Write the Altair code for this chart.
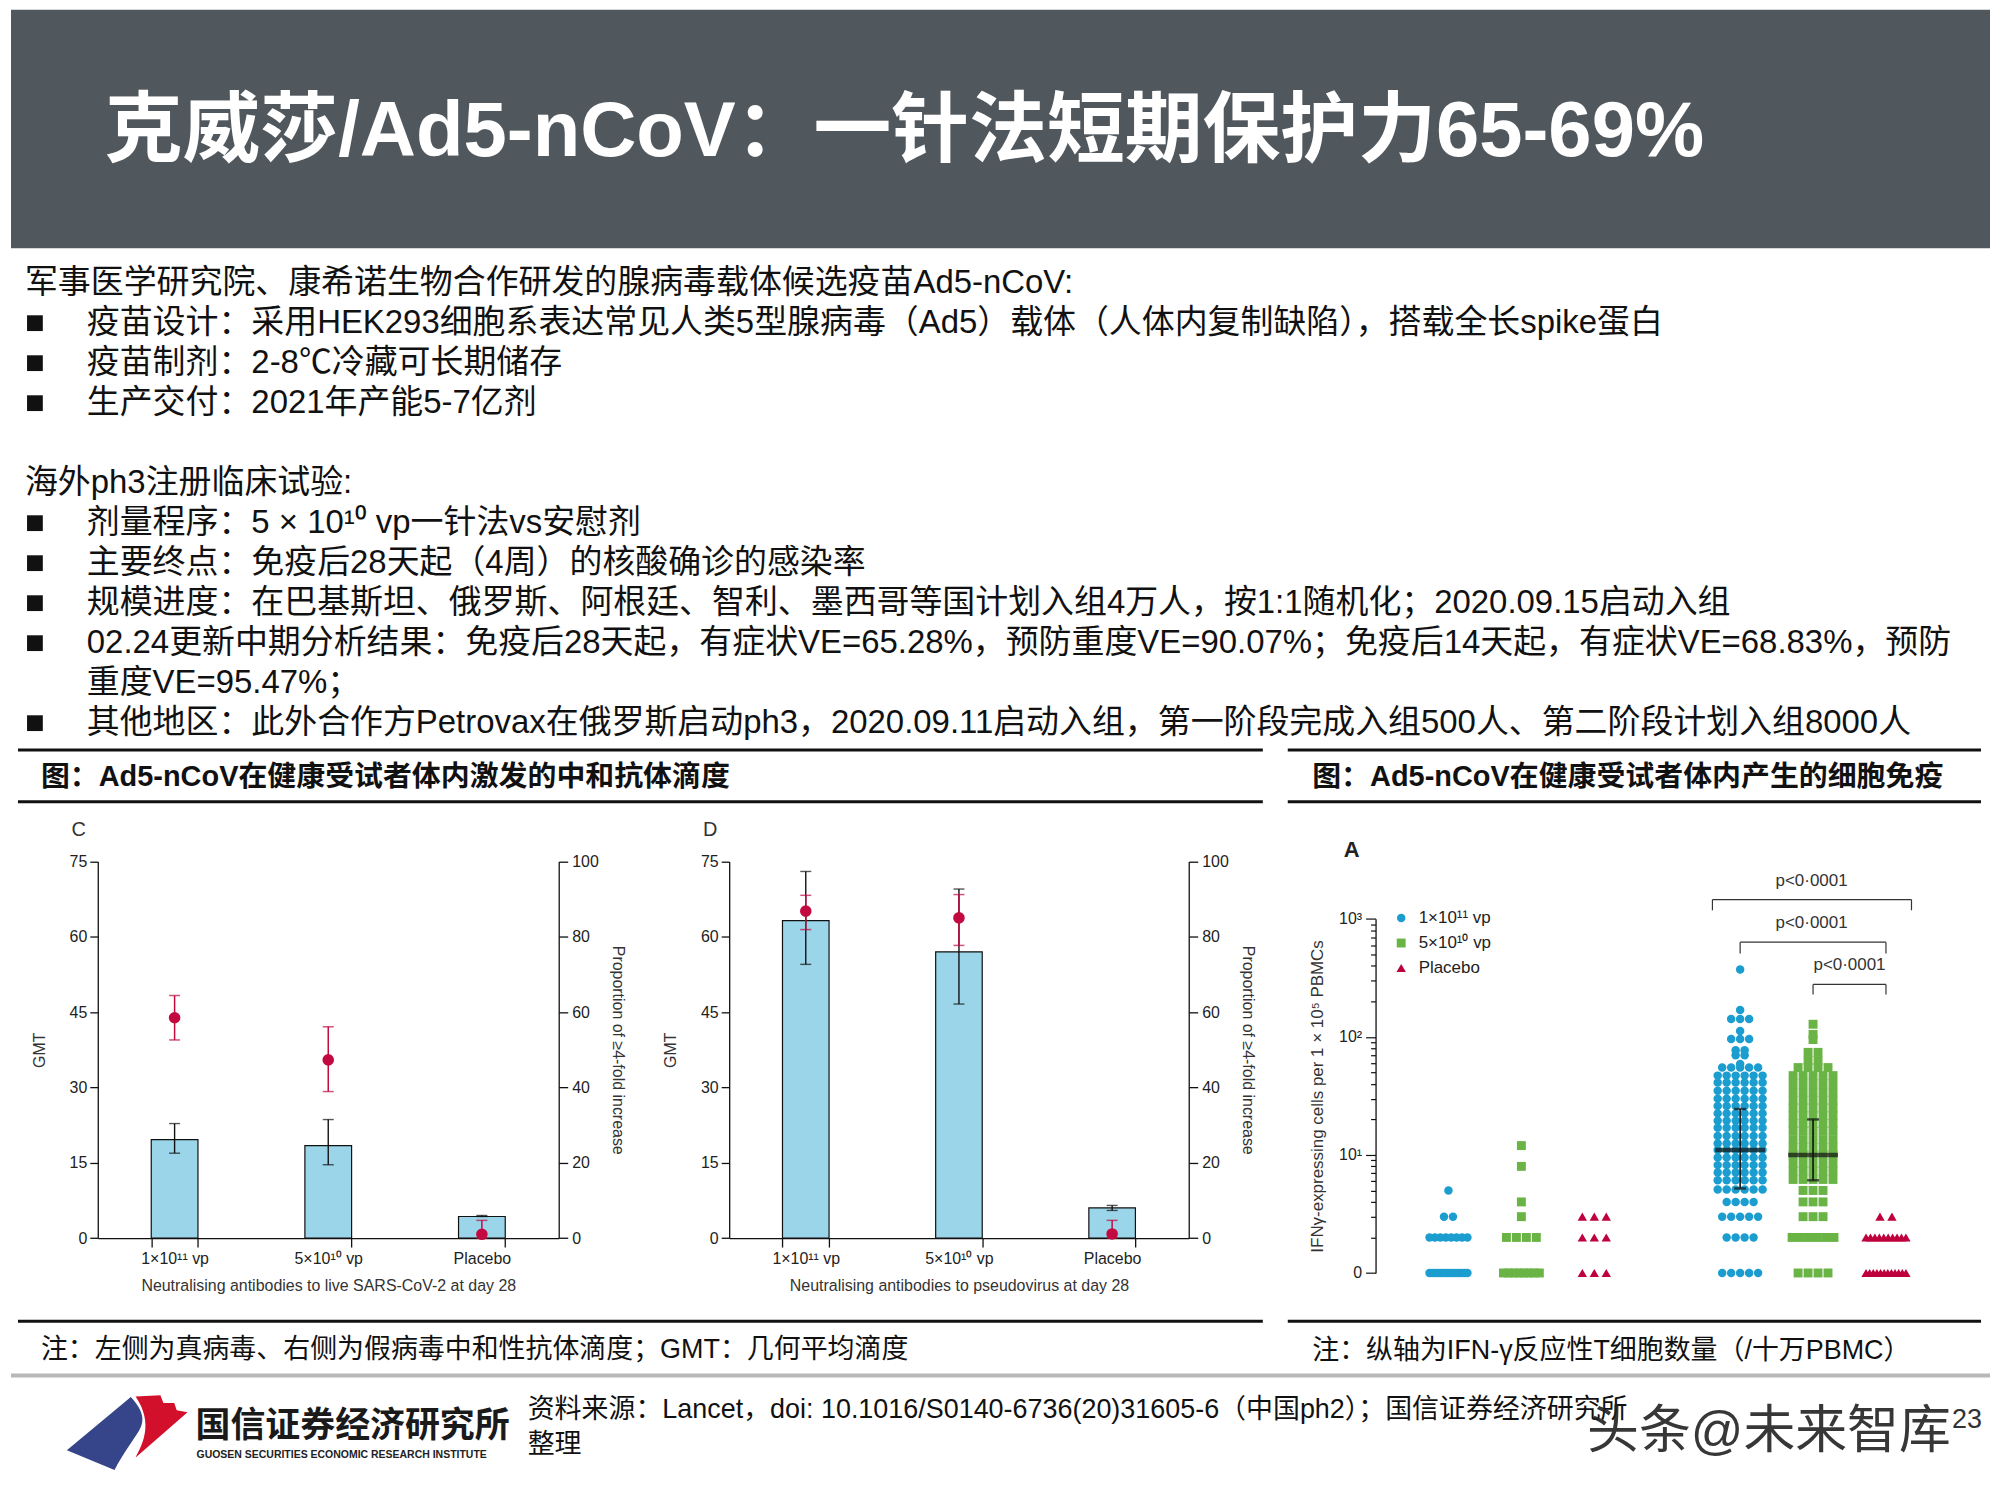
import altair as alt
import pandas as pd
from collections import Counter

# ================= text content =================
TITLE = "克威莎/Ad5-nCoV：一针法短期保护力65-69%"
INTRO_1 = "军事医学研究院、康希诺生物合作研发的腺病毒载体候选疫苗Ad5-nCoV:"
BULLETS_1 = [
    "疫苗设计：采用HEK293细胞系表达常见人类5型腺病毒（Ad5）载体（人体内复制缺陷），搭载全长spike蛋白",
    "疫苗制剂：2-8℃冷藏可长期储存",
    "生产交付：2021年产能5-7亿剂",
]
INTRO_2 = "海外ph3注册临床试验:"
BULLETS_2 = [
    "剂量程序：5 × 10¹⁰ vp一针法vs安慰剂",
    "主要终点：免疫后28天起（4周）的核酸确诊的感染率",
    "规模进度：在巴基斯坦、俄罗斯、阿根廷、智利、墨西哥等国计划入组4万人，按1:1随机化；2020.09.15启动入组",
    "02.24更新中期分析结果：免疫后28天起，有症状VE=65.28%，预防重度VE=90.07%；免疫后14天起，有症状VE=68.83%，预防",
    "其他地区：此外合作方Petrovax在俄罗斯启动ph3，2020.09.11启动入组，第一阶段完成入组500人、第二阶段计划入组8000人",
]
CONT_LINE = "重度VE=95.47%；"
HEAD_LEFT = "图：Ad5-nCoV在健康受试者体内激发的中和抗体滴度"
HEAD_RIGHT = "图：Ad5-nCoV在健康受试者体内产生的细胞免疫"
NOTE_LEFT = "注：左侧为真病毒、右侧为假病毒中和性抗体滴度；GMT：几何平均滴度"
NOTE_RIGHT = "注：纵轴为IFN-γ反应性T细胞数量（/十万PBMC）"
SOURCE_1 = "资料来源：Lancet，doi: 10.1016/S0140-6736(20)31605-6（中国ph2）；国信证券经济研究所"
SOURCE_2 = "整理"
ORG_CN = "国信证券经济研究所"
ORG_EN = "GUOSEN SECURITIES ECONOMIC RESEARCH INSTITUTE"
WATERMARK = "头条@未来智库"
PAGE = "23"

# ================= chart data =================
GROUPS = ["1×10¹¹ vp", "5×10¹⁰ vp", "Placebo"]
GMT_TICKS = [0, 15, 30, 45, 60, 75]
PROP_TICKS = [0, 20, 40, 60, 80, 100]

# panel C: live SARS-CoV-2
C_GMT = [19.6, 18.4, 4.3]
C_GMT_LO = [16.9, 14.6, 4.3]
C_GMT_HI = [22.8, 23.6, 4.5]
C_PROP = [58.5, 47.3, 1.0]
C_PROP_LO = [52.6, 38.9, 0.0]
C_PROP_HI = [64.4, 56.1, 4.7]

# panel D: pseudovirus
D_GMT = [63.2, 57.0, 6.0]
D_GMT_LO = [54.5, 46.6, 5.5]
D_GMT_HI = [73.0, 69.5, 6.5]
D_PROP = [86.8, 85.0, 1.1]
D_PROP_LO = [81.9, 77.7, 0.0]
D_PROP_HI = [91.0, 91.2, 4.7]

# panel A: IFN-gamma ELISpot, values
A_D0_HIGH = [0] * 14 + [2] * 8 + [3] * 2 + [5]
A_D0_MID = [0] * 8 + [2] * 4 + [3, 4, 8, 12]
A_D0_PLA = [0] * 3 + [2] * 3 + [3] * 3
A_D28_HIGH = ([373, 169, 142, 142, 142, 112, 96, 96, 96, 77, 77, 70, 70, 59]
              + [55] * 5 + [47] * 6 + [41] * 6 + [35] * 6 + [30] * 6 + [26] * 6
              + [22.5] * 6 + [19.5] * 6 + [17] * 6 + [14.5] * 6 + [12.5] * 6 + [11] * 6
              + [9.5] * 6 + [8.2] * 6 + [7.1] * 6 + [6.1] * 6 + [5.1] * 6
              + [4] * 4 + [3] * 5 + [2] * 4 + [0] * 5)
A_D28_MID = ([128, 105, 95, 74, 74, 63, 63]
             + [55] * 4 + [47] * 5 + [40] * 5 + [34] * 5 + [29] * 5 + [25] * 5
             + [21.5] * 5 + [18.5] * 5 + [16] * 5 + [13.5] * 5 + [11.5] * 5 + [10] * 5
             + [8.5] * 5 + [7.3] * 5 + [6.2] * 5
             + [5] * 3 + [4] * 3 + [3] * 3 + [2] * 6 + [0] * 4)
A_D28_PLA = [0] * 12 + [2] * 10 + [3] * 2
A_MED = [11.0, 10.0]
A_MED_LO = [5.2, 6.1]
A_MED_HI = [24.5, 20.0]
A_LOG_LABELS = ["0", "10¹", "10²", "10³"]
P_TEXT = "p<0·0001"
A_YTITLE = "IFNγ-expressing cells per 1 × 10⁵ PBMCs"

# ================= styles / layout =================
NARROW = "Liberation Sans Narrow, Liberation Sans, Arial, sans-serif"
BODY = "Liberation Sans, Noto Sans CJK SC, sans-serif"
TITLE_BG = "#50575d"
BAR_FILL = "#9bd5e9"
C_RED = "#c20a40"
A_COLORS = ["#1b9ecf", "#6ab446", "#be003c"]

W = 1984
HDR_H = 802
SP0, C_W, SP1, D_W, SP2, A_W = 86.7, 462.1, 169.5, 460.7, 186.2, 584.8
CD_H, CD_TOP = 429.3, 51.7
A_H, A_TOP = 464.3, 109.3
FOFF = A_H               # footer drawn below the chart row
FTR_H = 217.7 + FOFF
PX_PER_UNIT = A_W / 8.0
A_LEFT = SP0 + C_W + SP1 + D_W + SP2

one = pd.DataFrame({"k": [0]})


def hline(x1, x2, y, color, w):
    return alt.Chart(one).mark_rule(color=color, strokeWidth=w).encode(
        x=alt.value(x1), x2=alt.value(x2), y=alt.value(y))


def label(text, x, y, size, font=BODY, color="#111", weight="normal",
          align="left", baseline="middle", **kw):
    return alt.Chart(one).mark_text(
        align=align, baseline=baseline, font=font, fontSize=size,
        fontWeight=weight, color=color, **kw).encode(
        x=alt.value(x), y=alt.value(y), text=alt.value(text))


# ================= header =================
body = ([(INTRO_1, 0, False)] + [(t, 1, True) for t in BULLETS_1]
        + [(INTRO_2, 0, False)] + [(t, 1, True) for t in BULLETS_2[:4]]
        + [(CONT_LINE, 1, False)] + [(BULLETS_2[4], 1, True)])
slots = [0, 1, 2, 3, 5, 6, 7, 8, 9, 10, 11]
body_df = pd.DataFrame({
    "t": [b[0] for b in body],
    "x": [14 if b[1] == 0 else 76 for b in body],
    "y": [274 + 40.1 * s for s in slots],
})
bul_df = pd.DataFrame({
    "x": [24 for b in body if b[2]],
    "y": [274 + 40.1 * s for b, s in zip(body, slots) if b[2]],
})

hdr_layers = [
    alt.Chart(one).mark_rect(color=TITLE_BG).encode(
        x=alt.value(0), x2=alt.value(W), y=alt.value(0), y2=alt.value(239)),
    label(TITLE, 94, 147, 78, color="white", weight="bold", baseline="alphabetic"),
    alt.Chart(body_df).mark_text(align="left", baseline="middle", font=BODY,
                                 fontSize=33, color="#111").encode(
        x=alt.X("x:Q", scale=None, axis=None),
        y=alt.Y("y:Q", scale=None, axis=None), text="t:N"),
    alt.Chart(bul_df).mark_square(size=250, color="#111", opacity=1).encode(
        x=alt.X("x:Q", scale=None, axis=None),
        y=alt.Y("y:Q", scale=None, axis=None)),
    hline(7, 1255, 742, "#111", 3), hline(1280, 1975, 742, "#111", 3),
    hline(7, 1255, 794, "#111", 3), hline(1280, 1975, 794, "#111", 3),
    label(HEAD_LEFT, 30, 768.7, 29, weight="bold"),
    label(HEAD_RIGHT, 1304.5, 768.7, 29, weight="bold"),
]
header = alt.layer(*hdr_layers).properties(width=W, height=HDR_H)


# ================= panels C / D =================
def neut_panel(gmt, lo, hi, prop, plo, phi, xtitle, letter, width):
    df = pd.DataFrame({"g": GROUPS, "gmt": gmt, "lo": lo, "hi": hi,
                       "p": prop, "plo": plo, "phi": phi})
    base = alt.Chart(df)
    x = alt.X("g:N", sort=GROUPS, title=xtitle,
              scale=alt.Scale(paddingInner=0.696, paddingOuter=0.348),
              axis=alt.Axis(labelAngle=0, tickBand="extent", tickSize=9,
                            labelPadding=3, titlePadding=12, domainWidth=1.3,
                            tickWidth=1.3))
    ys_l = alt.Scale(domain=[0, 75], range=[CD_H, CD_TOP], nice=False, zero=True)
    ax_l = alt.Axis(values=GMT_TICKS, tickSize=8, labelPadding=3, titlePadding=22,
                    domainWidth=1.3, tickWidth=1.3)
    ys_r = alt.Scale(domain=[0, 100], range=[CD_H, CD_TOP], nice=False, zero=True)
    ax_r = alt.Axis(orient="right", values=PROP_TICKS, tickSize=9, labelPadding=4,
                    titlePadding=11, domainWidth=1.3, tickWidth=1.3)
    bars = base.mark_bar(fill=BAR_FILL, stroke="#111", strokeWidth=1.2).encode(
        x=x, y=alt.Y("gmt:Q", scale=ys_l, axis=ax_l, title="GMT"))
    err = base.mark_rule(color="#111", strokeWidth=1.4).encode(
        x=x, y=alt.Y("lo:Q", scale=ys_l, axis=ax_l, title="GMT"), y2="hi:Q")
    cap_lo = base.mark_tick(color="#111", size=11, thickness=1.4).encode(
        x=x, y=alt.Y("lo:Q", scale=ys_l, axis=ax_l, title="GMT"))
    cap_hi = base.mark_tick(color="#111", size=11, thickness=1.4).encode(
        x=x, y=alt.Y("hi:Q", scale=ys_l, axis=ax_l, title="GMT"))
    left = alt.layer(bars, err, cap_lo, cap_hi)
    rt = "Proportion of ≥4-fold increase"
    rerr = base.mark_rule(color=C_RED, strokeWidth=1.5).encode(
        x=x, y=alt.Y("plo:Q", scale=ys_r, axis=ax_r, title=rt), y2="phi:Q")
    rcap_lo = base.mark_tick(color=C_RED, size=11, thickness=1.5).encode(
        x=x, y=alt.Y("plo:Q", scale=ys_r, axis=ax_r, title=rt))
    rcap_hi = base.mark_tick(color=C_RED, size=11, thickness=1.5).encode(
        x=x, y=alt.Y("phi:Q", scale=ys_r, axis=ax_r, title=rt))
    rdot = base.mark_circle(size=135, color=C_RED, opacity=1).encode(
        x=x, y=alt.Y("p:Q", scale=ys_r, axis=ax_r, title=rt))
    right = alt.layer(rerr, rcap_lo, rcap_hi, rdot)
    let = label(letter, -19, 20, 20, font=NARROW, color="#333", align="center")
    return alt.layer(left, right, let).resolve_scale(y="independent").properties(
        width=width, height=CD_H)


chart_c = neut_panel(C_GMT, C_GMT_LO, C_GMT_HI, C_PROP, C_PROP_LO, C_PROP_HI,
                     "Neutralising antibodies to live SARS-CoV-2 at day 28", "C", C_W)
chart_d = neut_panel(D_GMT, D_GMT_LO, D_GMT_HI, D_PROP, D_PROP_LO, D_PROP_HI,
                     "Neutralising antibodies to pseudovirus at day 28", "D", D_W)


# ================= panel A =================
def swarm(values, center, d, maxw):
    out = []
    for v, n in sorted(Counter(values).items()):
        sp = d if n == 1 else min(d, maxw / (n - 1))
        for i in range(n):
            off = (i - (n - 1) / 2.0) * sp
            out.append((center + off / PX_PER_UNIT, max(v, 1)))
    return out


a_sets = [(A_D0_HIGH, 1, 0, 38.0), (A_D0_MID, 2, 1, 36.0), (A_D0_PLA, 3, 2, 38.0),
          (A_D28_HIGH, 5, 0, 46.0), (A_D28_MID, 6, 1, 42.0), (A_D28_PLA, 7, 2, 40.0)]
spacing_px = [9.0, 10.0, 12.0]
recs = []
for vals, pos, si, mw in a_sets:
    for xp, yv in swarm(vals, pos, spacing_px[si], mw):
        recs.append({"s": GROUPS[si], "xp": xp, "yv": yv})
pts_df = pd.DataFrame(recs)

log_ticks = [m * 10 ** e for e in range(3) for m in range(1, 10)] + [1000]
ax_x = alt.X("xp:Q", scale=alt.Scale(domain=[0, 8], nice=False, zero=False),
             axis=alt.Axis(values=[0, 4, 8], labels=False, title=None, tickSize=10,
                           domainWidth=1.3, tickWidth=1.3))
ysc_a = alt.Scale(type="log", domain=[1, 1000], range=[A_H, A_TOP], nice=False)
lab_expr = ("datum.value === 1 ? '%s' : datum.value === 10 ? '%s' : "
            "datum.value === 100 ? '%s' : datum.value === 1000 ? '%s' : ''") % tuple(A_LOG_LABELS)
ax_a = alt.Axis(values=log_ticks, labelExpr=lab_expr, labelOverlap=False,
                tickSize={"condition": {"test": "datum.value === 1 || datum.value === 10 || datum.value === 100 || datum.value === 1000", "value": 10}, "value": 5},
                labelPadding=4, titlePadding=12, titleFontSize=17, labelFontSize=16,
                domainWidth=1.3, tickWidth=1.2)
# legend sits inside panel A (legend coordinates are relative to the whole view)
leg = alt.Legend(title=None, orient="none", legendX=A_LEFT + 20, legendY=HDR_H + 100,
                 labelFont=NARROW, labelFontSize=17, labelColor="#222", symbolSize=110,
                 rowPadding=7, padding=0, labelOffset=9, symbolStrokeWidth=0)
pts = alt.Chart(pts_df).mark_point(filled=True, opacity=1, strokeWidth=0).encode(
    x=ax_x,
    y=alt.Y("yv:Q", scale=ysc_a, axis=ax_a, title=A_YTITLE),
    color=alt.Color("s:N", scale=alt.Scale(domain=GROUPS, range=A_COLORS), legend=leg),
    shape=alt.Shape("s:N", scale=alt.Scale(domain=GROUPS, range=["circle", "square", "triangle-up"]), legend=leg),
    size=alt.Size("s:N", scale=alt.Scale(domain=GROUPS, range=[72, 88, 78]), legend=None),
)
med_df = pd.DataFrame({"xp": [5, 6], "m": A_MED, "lo": A_MED_LO, "hi": A_MED_HI})
mb = alt.Chart(med_df)
ya = lambda f: alt.Y(f, scale=ysc_a, axis=ax_a, title=A_YTITLE)
med_layers = [
    mb.mark_rule(color="#111", strokeWidth=1.6).encode(x=ax_x, y=ya("lo:Q"), y2="hi:Q"),
    mb.mark_tick(orient="horizontal", color="#111", size=12, thickness=2.4).encode(x=ax_x, y=ya("lo:Q")),
    mb.mark_tick(orient="horizontal", color="#111", size=12, thickness=2.4).encode(x=ax_x, y=ya("hi:Q")),
    mb.mark_tick(orient="horizontal", color="#111", size=50, thickness=4.5).encode(x=ax_x, y=ya("m:Q")),
]
BRACKETS = [(4.62, 7.35, 90.0, 10.7), (5.0, 7.0, 132.7, 11.3), (6.0, 7.0, 175.0, 10.0)]
P_POS = [(5.98, 71.7), (5.98, 113.3), (6.5, 155.7)]
br_layers = []
for x1, x2, yp, h in BRACKETS:
    bdf = pd.DataFrame({"a": [x1], "b": [x2]})
    bc = alt.Chart(bdf)
    br_layers.append(bc.mark_rule(color="#333", strokeWidth=1.2).encode(
        x=alt.X("a:Q", scale=alt.Scale(domain=[0, 8], nice=False, zero=False), axis=None),
        x2="b:Q", y=alt.value(yp)))
    for f in ["a", "b"]:
        br_layers.append(bc.mark_rule(color="#333", strokeWidth=1.2).encode(
            x=alt.X(f + ":Q", scale=alt.Scale(domain=[0, 8], nice=False, zero=False), axis=None),
            y=alt.value(yp), y2=alt.value(yp + h)))
for px, py in P_POS:
    tdf = pd.DataFrame({"a": [px]})
    br_layers.append(alt.Chart(tdf).mark_text(font=NARROW, fontSize=17, color="#333",
                                              baseline="middle", align="center").encode(
        x=alt.X("a:Q", scale=alt.Scale(domain=[0, 8], nice=False, zero=False), axis=None),
        y=alt.value(py), text=alt.value(P_TEXT)))
a_letter = label("A", -24, 40, 22, font=NARROW, color="#222", weight="bold", align="center")
chart_a = alt.layer(pts, *med_layers, *br_layers, a_letter).properties(width=A_W, height=A_H)


def spacer(w):
    return alt.Chart(one).mark_point(opacity=0).encode(
        x=alt.value(0), y=alt.value(0)).properties(width=w, height=10)


row = alt.hconcat(spacer(SP0), chart_c, spacer(SP1), chart_d, spacer(SP2), chart_a,
                  spacing=0, bounds="flush")

# ================= footer =================
BLUE_PATH = "M-1,0.28 L0.06,-0.6 C0.22,-0.42 0.32,-0.25 0.2,-0.05 C0.08,0.15 -0.08,0.35 -0.21,0.61 Z"
RED_PATH = "M0.14,-0.61 L0.55,-0.63 L0.6,-0.5 L0.78,-0.5 L0.82,-0.38 L1,-0.35 L0.14,0.4 C0.24,0.2 0.45,-0.15 0.14,-0.61 Z"
F = FOFF
ftr_layers = [
    hline(7, 1255, F + 48.4, "#111", 3), hline(1280, 1975, F + 48.4, "#111", 3),
    label(NOTE_LEFT, 30, F + 77.4, 27),
    label(NOTE_RIGHT, 1304.5, F + 78.7, 27),
    hline(0, W, F + 102.7, "#b8b8b8", 4),
    alt.Chart(one).mark_point(shape=BLUE_PATH, filled=True, size=14641, color="#36458a",
                              opacity=1, strokeWidth=0).encode(x=alt.value(116.5), y=alt.value(F + 160.7)),
    alt.Chart(one).mark_point(shape=RED_PATH, filled=True, size=14641, color="#d2102c",
                              opacity=1, strokeWidth=0).encode(x=alt.value(116.5), y=alt.value(F + 160.7)),
    label(ORG_CN, 185, F + 153.7, 35, weight="bold", color="#1a1a1a"),
    label(ORG_EN, 186, F + 182.7, 10.5, font="Liberation Sans, sans-serif", weight="bold", color="#222"),
    label(SOURCE_1, 518, F + 137.4, 27),
    label(SOURCE_2, 518, F + 172.4, 27),
    label(PAGE, 1976, F + 147.7, 27, align="right", color="#333"),
    label(WATERMARK, 1580, F + 159.7, 52, color="#222", opacity=0.9),
]
footer = alt.layer(*ftr_layers).properties(width=W, height=FTR_H)

chart = alt.vconcat(header, row, footer, spacing=0, bounds="flush").properties(
    padding=0, background="white"
).configure_view(strokeOpacity=0).configure_axis(
    grid=False, domainColor="#111", tickColor="#111", labelColor="#222",
    titleColor="#333", labelFont=NARROW, titleFont=NARROW, titleFontWeight="normal",
    labelFontSize=16, titleFontSize=16)

chart.save("out.html", embed_options={"renderer": "svg", "actions": False})
